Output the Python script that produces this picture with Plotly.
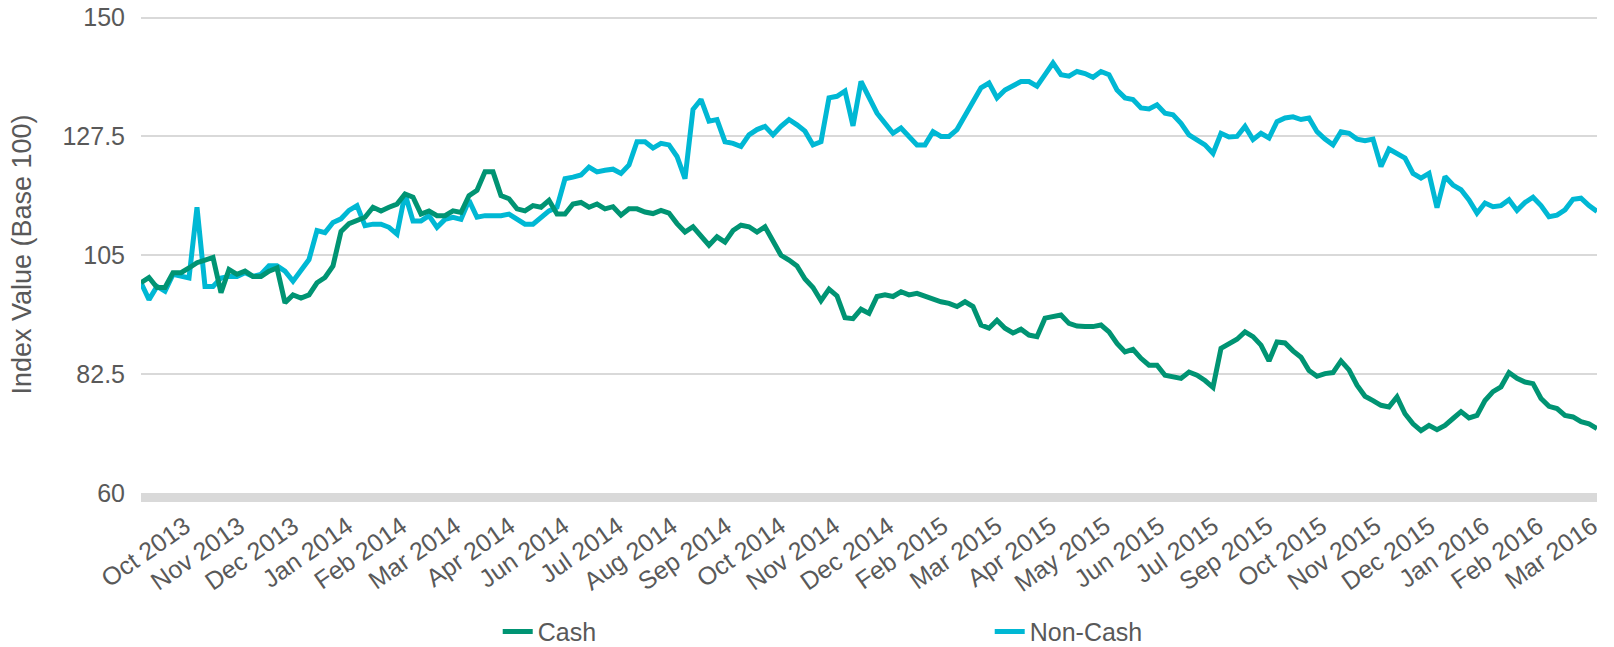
import plotly.graph_objects as go

# ---- data (index values, base 100), evenly spaced observations ----
cash = [
    99.8, 100.8, 98.9, 98.9, 101.7, 101.7, 102.6, 103.6, 104.1, 104.6,
    97.9, 102.3, 101.4, 102.0, 101.0, 101.0, 102.0, 102.6, 96.0, 97.5,
    96.9, 97.5, 99.8, 100.8, 103.0, 109.5, 111.0, 111.6, 112.2, 114.1,
    113.4, 114.1, 114.7, 116.6, 116.0, 112.8, 113.4, 112.5, 112.5, 113.4,
    113.1, 116.3, 117.3, 120.8, 120.8, 116.3, 115.7, 113.8, 113.4, 114.4,
    114.1, 115.4, 112.8, 112.8, 114.7, 115.0, 114.1, 114.7, 113.8, 114.2,
    112.6, 113.8, 113.8, 113.2, 112.9, 113.5, 113.0, 111.0, 109.4, 110.4,
    108.5, 106.9, 108.5, 107.5, 109.7, 110.7, 110.4, 109.4, 110.4, 107.8,
    105.0, 104.1, 103.0, 100.5, 98.9, 96.4, 98.6, 97.3, 93.2, 93.0,
    94.8, 94.0, 97.2, 97.5, 97.2, 98.1, 97.5, 97.8, 97.2, 96.8,
    96.2, 95.9, 95.3, 96.2, 95.3, 91.8, 91.2, 92.7, 91.2, 90.3,
    91.0, 89.9, 89.6, 93.1, 93.4, 93.7, 92.1, 91.6, 91.5, 91.5,
    91.8, 90.5, 88.3, 86.7, 87.2, 85.5, 84.2, 84.2, 82.3, 82.0,
    81.7, 82.9, 82.3, 81.3, 80.0, 87.4, 88.3, 89.1, 90.5, 89.6,
    88.0, 85.0, 88.6, 88.4, 86.9, 85.7, 83.2, 82.1, 82.6, 82.8,
    85.0, 83.3, 80.4, 78.3, 77.5, 76.6, 76.3, 78.2, 75.0, 73.1,
    71.8, 72.8, 72.0, 72.8, 74.1, 75.4, 74.2, 74.7, 77.5, 79.2,
    80.1, 82.8, 81.7, 81.0, 80.7, 77.9, 76.4, 76.0, 74.7, 74.4,
    73.5, 73.1, 72.2,
]

non_cash = [
    99.8, 96.6, 99.1, 98.2, 101.4, 101.0, 100.7, 114.1, 99.1, 99.1,
    100.7, 101.0, 101.0, 101.7, 101.0, 101.4, 103.0, 103.0, 102.0, 100.1,
    102.0, 104.2, 109.7, 109.3, 111.2, 111.9, 113.5, 114.4, 110.6, 110.9,
    110.9, 110.3, 109.0, 116.6, 111.5, 111.5, 112.5, 110.3, 111.8, 112.2,
    111.8, 115.4, 112.2, 112.5, 112.5, 112.5, 112.8, 111.8, 110.9, 110.9,
    112.2, 113.4, 114.1, 119.5, 119.8, 120.2, 121.7, 120.8, 121.1, 121.3,
    120.5, 122.1, 126.5, 126.5, 125.3, 126.2, 125.9, 123.7, 119.5, 132.6,
    134.5, 130.4, 130.7, 126.5, 126.2, 125.6, 127.8, 128.8, 129.4, 127.8,
    129.4, 130.7, 129.7, 128.5, 125.9, 126.5, 134.8, 135.1, 136.1, 129.5,
    137.9, 135.1, 131.9, 130.0, 128.1, 129.1, 127.5, 125.9, 125.9, 128.4,
    127.5, 127.5, 128.8, 131.3, 134.1, 136.7, 137.6, 134.8, 136.3, 137.0,
    137.9, 137.9, 137.0, 139.2, 141.4, 139.2, 138.9, 139.8, 139.4, 138.7,
    139.8, 139.2, 136.3, 134.8, 134.5, 132.9, 132.7, 133.5, 131.9, 131.6,
    130.0, 127.8, 126.9, 125.9, 124.3, 128.1, 127.4, 127.5, 129.4, 126.9,
    128.1, 127.2, 130.3, 131.0, 131.2, 130.7, 131.0, 128.4, 127.0, 125.9,
    128.4, 128.1, 127.0, 126.7, 127.0, 121.8, 125.1, 124.3, 123.4, 120.5,
    119.6, 120.5, 114.0, 119.9, 118.3, 117.4, 115.5, 113.0, 114.9, 114.2,
    114.4, 115.5, 113.5, 115.0, 116.0, 114.4, 112.3, 112.6, 113.6, 115.6,
    115.8, 114.4, 113.3,
]

tick_labels = [
    "Oct 2013", "Nov 2013", "Dec 2013", "Jan 2014", "Feb 2014", "Mar 2014",
    "Apr 2014", "Jun 2014", "Jul 2014", "Aug 2014", "Sep 2014", "Oct 2014",
    "Nov 2014", "Dec 2014", "Feb 2015", "Mar 2015", "Apr 2015", "May 2015",
    "Jun 2015", "Jul 2015", "Sep 2015", "Oct 2015", "Nov 2015", "Dec 2015",
    "Jan 2016", "Feb 2016", "Mar 2016",
]

y_ticks = [60, 82.5, 105, 127.5, 150]

# ---- derived ----
obs = list(range(len(cash)))
FIRST_TICK = 5.5
TICK_STEP = 6.765
tick_vals = [FIRST_TICK + TICK_STEP * i for i in range(len(tick_labels))]

FONT = "Liberation Sans, Arial, sans-serif"
TEXT = "#595959"
GRID = "#d9d9d9"

fig = go.Figure()
fig.add_trace(go.Scatter(
    x=obs, y=non_cash, name="Non-Cash", mode="lines",
    line=dict(color="#00B8D4", width=5),
))
fig.add_trace(go.Scatter(
    x=obs, y=cash, name="Cash", mode="lines",
    line=dict(color="#009473", width=5),
))

fig.update_layout(
    width=1614, height=647,
    margin=dict(l=141, r=17, t=16, b=154, autoexpand=False),
    paper_bgcolor="white", plot_bgcolor="white",
    font=dict(family=FONT, size=25, color=TEXT),
    showlegend=True,
    legend=dict(
        orientation="h", traceorder="reversed",
        x=0.245, xanchor="left", y=-0.291, yanchor="middle",
        entrywidth=447, entrywidthmode="pixels",
        font=dict(family=FONT, size=25, color=TEXT),
        bgcolor="rgba(0,0,0,0)",
    ),
)

fig.update_xaxes(
    type="linear", range=[0, len(cash) - 1],
    tickmode="array", tickvals=tick_vals, ticktext=tick_labels,
    tickangle=-35, tickfont=dict(family=FONT, size=25, color=TEXT),
    showgrid=False, zeroline=False,
    showline=True, linecolor=GRID, linewidth=9,
    ticks="", ticklabelstandoff=0,
)
fig.update_yaxes(
    range=[60, 150.3], tickmode="array", tickvals=y_ticks,
    ticktext=[f"{v:g}" for v in y_ticks],
    tickfont=dict(family=FONT, size=25, color=TEXT),
    showgrid=True, gridcolor=GRID, gridwidth=2,
    zeroline=False, showline=False, ticks="",
    ticklabelstandoff=15, ticklabeloverflow="allow",
    title=dict(text="Index Value (Base 100)", font=dict(family=FONT, size=27, color=TEXT),
               standoff=22),
)

fig.write_html(
    "out.html",
    config={"displayModeBar": False},
    post_script="document.body.style.margin='0';document.body.style.padding='0';",
)
